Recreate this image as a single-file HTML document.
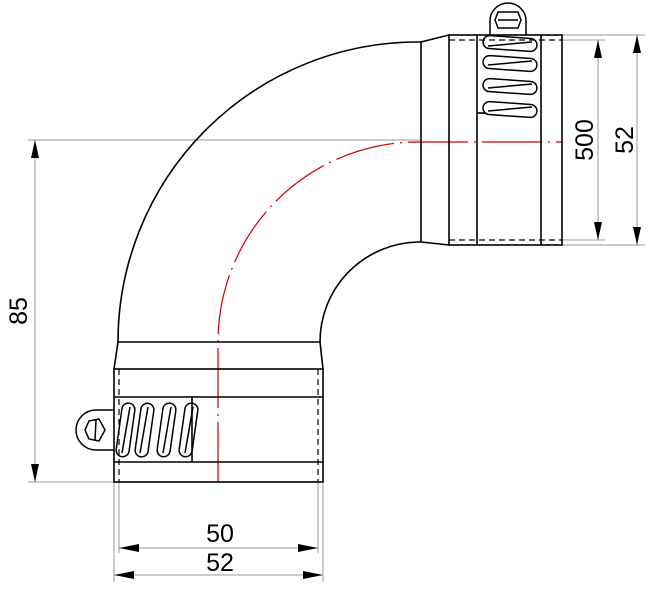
<!DOCTYPE html>
<html><head><style>html,body{margin:0;padding:0;background:#fff}</style></head>
<body>
<svg width="656" height="600" viewBox="0 0 656 600" xmlns="http://www.w3.org/2000/svg" font-family="Liberation Sans, sans-serif">
<rect width="656" height="600" fill="#fff"/>
<g stroke="#999" stroke-width="1" fill="none">
  <line x1="28" y1="140" x2="420" y2="140"/>
  <line x1="28" y1="482" x2="114" y2="482"/>
  <line x1="35" y1="140" x2="35" y2="482"/>
  <line x1="562" y1="35" x2="645" y2="35"/>
  <line x1="562" y1="245" x2="645" y2="245"/>
  <line x1="562" y1="40" x2="605" y2="40"/>
  <line x1="562" y1="240" x2="605" y2="240"/>
  <line x1="637" y1="35" x2="637" y2="245"/>
  <line x1="598" y1="40" x2="598" y2="240"/>
  <line x1="114" y1="482" x2="114" y2="582"/>
  <line x1="323" y1="482" x2="323" y2="582"/>
  <line x1="119" y1="482" x2="119" y2="553"/>
  <line x1="318" y1="482" x2="318" y2="553"/>
  <line x1="119" y1="548" x2="318" y2="548"/>
  <line x1="114" y1="575" x2="323" y2="575"/>
</g>
<g fill="#000">
  <polygon points="35,140 31,158 39,158"/>
  <polygon points="35,482 31,464 39,464"/>
  <polygon points="637,35 633,53 641,53"/>
  <polygon points="637,245 633,227 641,227"/>
  <polygon points="598,40 594,58 602,58"/>
  <polygon points="598,240 594,222 602,222"/>
  <polygon points="119,548 139,544 139,552"/>
  <polygon points="318,548 298,544 298,552"/>
  <polygon points="114,575 134,571 134,579"/>
  <polygon points="323,575 303,571 303,579"/>
</g>
<g font-size="25" fill="#000" text-anchor="middle">
  <text x="220" y="542">50</text>
  <text x="220" y="571">52</text>
  <text transform="translate(27,311) rotate(-90)">85</text>
  <text transform="translate(593,140) rotate(-90)">500</text>
  <text transform="translate(633,140) rotate(-90)">52</text>
</g>
<g stroke="#c00" stroke-width="1.2" fill="none">
  <path d="M218 482 L218 342 A200 200 0 0 1 418 142 L562 142" stroke-dasharray="60 6 2 6"/>
</g>
<g stroke="#000" stroke-width="1.6" fill="none">
  <path d="M118 342 A300 300 0 0 1 418 42 L421 42 L449 35"/>
  <path d="M320 342 A100 100 0 0 1 418 242 L421 242 L449 245"/>
  <line x1="421" y1="42" x2="421" y2="242"/>
  <line x1="118" y1="342" x2="320" y2="342"/>
  <path d="M118 342 L114 369 M320 342 L323 369"/>
  <rect x="114" y="369" width="209" height="113"/>
  <line x1="114" y1="397" x2="323" y2="397"/>
  <line x1="114" y1="462" x2="323" y2="462"/>
  <line x1="192" y1="397" x2="192" y2="462"/>
  <rect x="449" y="35" width="113" height="210"/>
  <line x1="477" y1="35" x2="477" y2="245"/>
  <line x1="541" y1="35" x2="541" y2="245"/>
  <line x1="477" y1="113" x2="486" y2="113"/>
</g>
<g stroke="#000" stroke-width="1.2" fill="none" stroke-dasharray="6 4">
  <line x1="119" y1="369" x2="119" y2="482"/>
  <line x1="318" y1="369" x2="318" y2="482"/>
  <line x1="449" y1="40" x2="562" y2="40"/>
  <line x1="449" y1="240" x2="562" y2="240"/>
</g>
<g stroke="#000" stroke-width="1.5" fill="none">
  <rect x="119" y="403" width="13" height="54" rx="6.5" transform="rotate(8 126 430)"/>
  <line x1="122" y1="453" x2="130" y2="407"/>
  <rect x="138" y="403" width="13" height="54" rx="6.5" transform="rotate(8 144 430)"/>
  <line x1="140" y1="453" x2="148" y2="407"/>
  <rect x="160" y="403" width="13" height="54" rx="6.5" transform="rotate(8 167 430)"/>
  <line x1="163" y1="453" x2="171" y2="407"/>
  <rect x="182" y="403" width="13" height="54" rx="6.5" transform="rotate(8 189 430)"/>
  <line x1="185" y1="453" x2="193" y2="407"/>
  <rect x="483" y="37" width="54" height="13" rx="6.5" transform="rotate(4 510 44)"/>
  <line x1="488" y1="46" x2="532" y2="42"/>
  <rect x="483" y="57" width="54" height="13" rx="6.5" transform="rotate(4 510 63)"/>
  <line x1="488" y1="65" x2="532" y2="61"/>
  <rect x="483" y="80" width="54" height="13" rx="6.5" transform="rotate(4 510 86)"/>
  <line x1="488" y1="88" x2="532" y2="84"/>
  <rect x="483" y="103" width="54" height="13" rx="6.5" transform="rotate(4 510 109)"/>
  <line x1="488" y1="111" x2="532" y2="107"/>
  <path d="M114 410 L96 410 A20 20 0 0 0 96 450 L114 450"/>
  <polygon points="89,421 99,419 105,430 99,441 89,439 85,430"/>
  <line x1="96" y1="420" x2="95" y2="440"/>
  <path d="M490 35 L490 21 A18 18 0 0 1 526 21 L526 35"/>
  <polygon points="498,12 518,12 521,20 518,28 498,28 495,20"/>
  <line x1="498" y1="20" x2="518" y2="20"/>
</g>
</svg>
</body></html>
